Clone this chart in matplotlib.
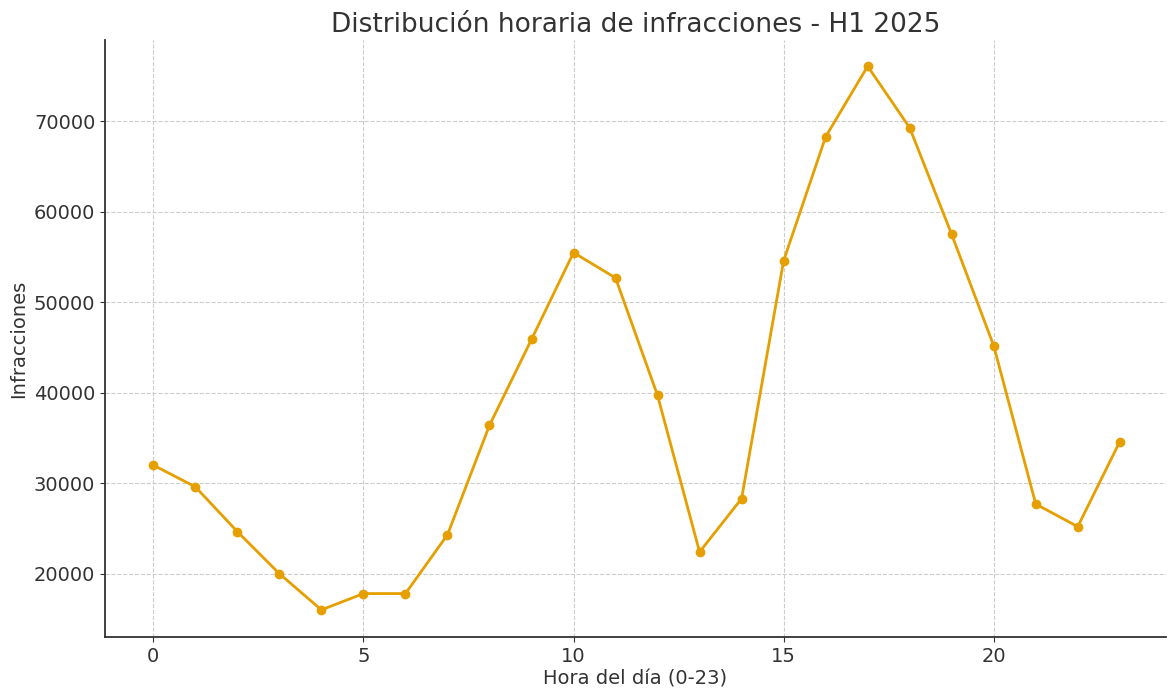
import matplotlib
matplotlib.use("Agg")
import matplotlib.pyplot as plt

horas = list(range(24))
infracciones = [32000, 29600, 24650, 20000, 16000, 17800, 17800, 24300,
                36400, 45900, 55500, 52700, 39700, 22400, 28300, 54600,
                68300, 76100, 69300, 57500, 45200, 27700, 25200, 34600]

color = "#E69F00"
texto = "#333333"

fig = plt.figure(figsize=(11.68, 6.89), dpi=100)
ax = fig.add_axes([105 / 1168, 1 - 637 / 689, (1166 - 105) / 1168, (637 - 40) / 689])

ax.plot(horas, infracciones, color=color, linewidth=2, marker="o", markersize=6)

ax.set_title("Distribución horaria de infracciones - H1 2025", fontsize=19, color=texto, pad=6)
ax.set_xlabel("Hora del día (0-23)", fontsize=14, color=texto, labelpad=3)
ax.set_ylabel("Infracciones", fontsize=14, color=texto)

ax.set_xlim(-1.15, 24.1)
ax.set_ylim(13000, 79000)
ax.set_xticks([0, 5, 10, 15, 20])
ax.set_yticks([20000, 30000, 40000, 50000, 60000, 70000])
ax.tick_params(labelsize=14, colors=texto)
ax.grid(True, linestyle="--", color="#cccccc", linewidth=0.8)
ax.set_axisbelow(True)
for s in ["top", "right"]:
    ax.spines[s].set_visible(False)
for s in ["left", "bottom"]:
    ax.spines[s].set_color(texto)
    ax.spines[s].set_linewidth(1.3)

fig.savefig("out.png", dpi=100)
